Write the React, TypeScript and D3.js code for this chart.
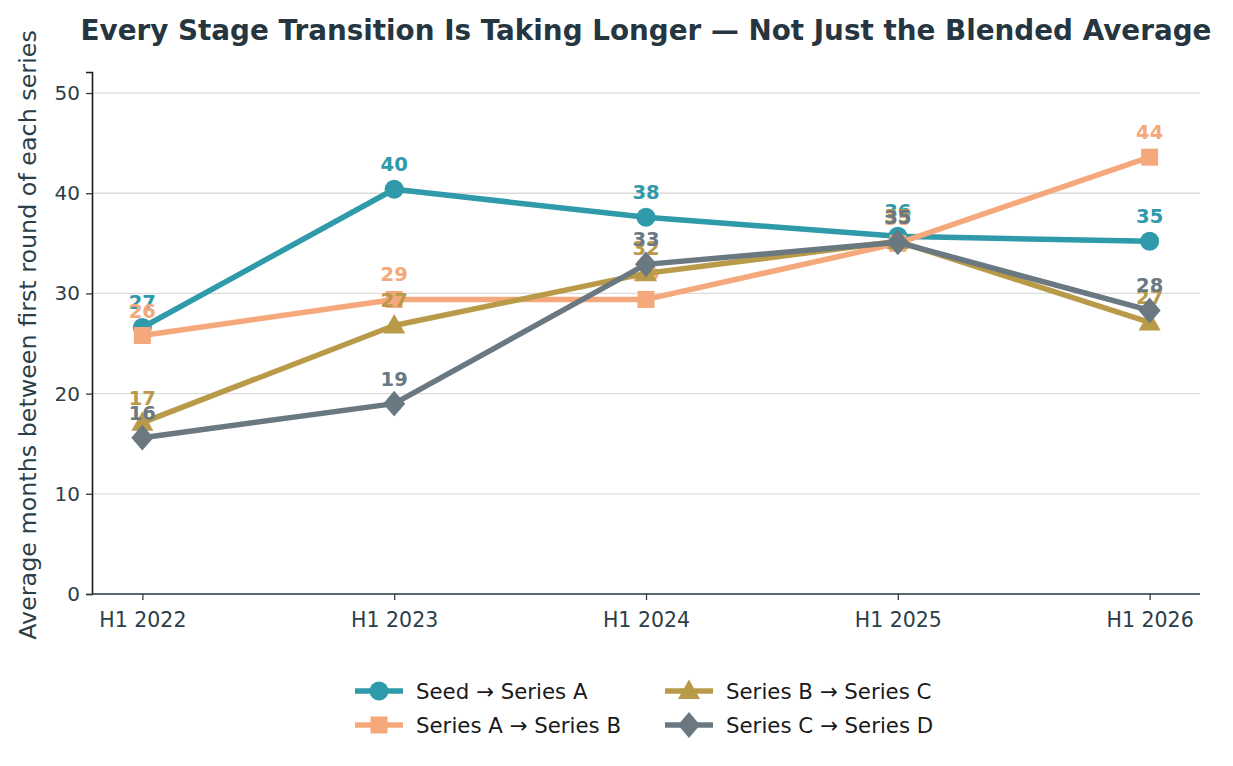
import { useEffect, useRef } from 'react';
import * as d3 from 'd3';

const periods = ['H1 2022', 'H1 2023', 'H1 2024', 'H1 2025', 'H1 2026'];
const seedToA = [26.6, 40.4, 37.6, 35.7, 35.2];
const aToB = [25.8, 29.4, 29.4, 35.0, 43.6];
const bToC = [17.1, 26.8, 32.0, 35.2, 27.1];
const cToD = [15.6, 19.0, 32.9, 35.1, 28.3];
const seriesNames = ['Seed → Series A', 'Series A → Series B', 'Series B → Series C', 'Series C → Series D'];
const seriesColors = ['#2e9aaa', '#f5a87b', '#b89a48', '#6a7882'];
const seriesMarkers = ['circle', 'square', 'triangle', 'diamond'];
const yTicks = [0, 10, 20, 30, 40, 50];

const W = 1233;
const H = 766;
const FONT = 'DejaVu Sans, sans-serif';

function markerPath(kind: string, s: number) {
    if (kind === 'circle') return d3.symbol(d3.symbolCircle, s * s * Math.PI / 4)()!;
    if (kind === 'square') return d3.symbol(d3.symbolSquare, s * s * 0.8)()!;
    if (kind === 'triangle') return `M0,${-s * 0.6}L${s * 0.58},${s * 0.42}L${-s * 0.58},${s * 0.42}Z`;
    return `M0,${-s * 0.68}L${s * 0.58},0L0,${s * 0.68}L${-s * 0.58},0Z`;
}

export default function App() {
    const svgRef = useRef<SVGSVGElement>(null);

    useEffect(() => {
        document.body.style.margin = '0';
        if (!svgRef.current) return;
        const svg = d3.select(svgRef.current);
        svg.selectAll('*').remove();

        const margin = { top: 72, right: 33, bottom: 172, left: 92 };
        const innerW = W - margin.left - margin.right;
        const innerH = H - margin.top - margin.bottom;

        const x = d3.scaleLinear().domain([-0.2, periods.length - 0.8]).range([0, innerW]);
        const y = d3.scaleLinear().domain([0, 52.1]).range([innerH, 0]);

        const g = svg.append('g').attr('transform', `translate(${margin.left},${margin.top})`);

        // Gridlines
        g.append('g').selectAll('line')
            .data(yTicks)
            .enter().append('line')
            .attr('x1', 0).attr('x2', innerW)
            .attr('y1', d => y(d)).attr('y2', d => y(d))
            .attr('stroke', '#dcdcdc')
            .attr('stroke-width', 1.3);

        // Y axis
        const yAxis = g.append('g')
            .call(d3.axisLeft(y).tickValues(yTicks).tickSize(6).tickPadding(6));
        yAxis.select('.domain').attr('stroke', '#1a1a1a').attr('stroke-width', 1.6);
        yAxis.selectAll('.tick line').attr('stroke', '#2c3e48').attr('stroke-width', 1.3);
        yAxis.selectAll('.tick text')
            .attr('font-family', FONT).attr('font-size', 20).attr('fill', '#2c3e48');

        // X axis
        const xAxis = g.append('g')
            .attr('transform', `translate(0,${innerH})`)
            .call(d3.axisBottom(x).tickValues(d3.range(periods.length)).tickFormat(i => periods[i as number]).tickSize(6).tickPadding(12));
        xAxis.select('.domain').attr('stroke', '#2c3e48').attr('stroke-width', 1.6).attr('d', `M0,0H${innerW}`);
        xAxis.selectAll('.tick line').attr('stroke', '#2c3e48').attr('stroke-width', 1.3);
        xAxis.selectAll('.tick text')
            .attr('font-family', FONT).attr('font-size', 20.5).attr('fill', '#2c3e48');

        // Series: line, markers and labels drawn together per series
        const allSeries = [seedToA, aToB, bToC, cToD];
        const line = d3.line<number>().x((_, i) => x(i)).y(d => y(d));
        allSeries.forEach((vals, si) => {
            const sg = g.append('g');
            const color = seriesColors[si];
            sg.append('path')
                .attr('d', line(vals))
                .attr('fill', 'none')
                .attr('stroke', color)
                .attr('stroke-width', 5.5)
                .attr('stroke-linejoin', 'round');
            sg.selectAll('path.mk')
                .data(vals)
                .enter().append('path')
                .attr('class', 'mk')
                .attr('transform', (d, i) => `translate(${x(i)},${y(d)})`)
                .attr('d', markerPath(seriesMarkers[si], 19))
                .attr('fill', color);
            sg.selectAll('text')
                .data(vals)
                .enter().append('text')
                .attr('x', (_, i) => x(i))
                .attr('y', d => y(d) - 18)
                .attr('text-anchor', 'middle')
                .attr('font-family', FONT)
                .attr('font-size', 19.5)
                .attr('font-weight', 'bold')
                .attr('fill', color)
                .text(d => Math.round(d));
        });

        // Title
        svg.append('text')
            .attr('x', 646).attr('y', 40)
            .attr('text-anchor', 'middle')
            .attr('font-family', FONT)
            .attr('font-size', 27.8)
            .attr('font-weight', 'bold')
            .attr('fill', '#263640')
            .text('Every Stage Transition Is Taking Longer — Not Just the Blended Average');

        // Y label
        svg.append('text')
            .attr('transform', `translate(36,${margin.top + innerH / 2 + 2}) rotate(-90)`)
            .attr('text-anchor', 'middle')
            .attr('font-family', FONT)
            .attr('font-size', 23.8)
            .attr('fill', '#2c3e48')
            .text('Average months between first round of each series');

        // Legend
        const legend = svg.append('g');
        const colX = [355, 665];
        const rowY = [691, 725];
        seriesNames.forEach((name, i) => {
            const lx = colX[Math.floor(i / 2)];
            const ly = rowY[i % 2];
            const color = seriesColors[i];
            legend.append('line')
                .attr('x1', lx).attr('x2', lx + 48)
                .attr('y1', ly).attr('y2', ly)
                .attr('stroke', color).attr('stroke-width', 5.5);
            legend.append('path')
                .attr('transform', `translate(${lx + 24},${ly})`)
                .attr('d', markerPath(seriesMarkers[i], 19))
                .attr('fill', color);
            legend.append('text')
                .attr('x', lx + 61).attr('y', ly + 7.5)
                .attr('font-family', FONT)
                .attr('font-size', 21.3)
                .attr('fill', '#1a1a1a')
                .text(name);
        });
    }, []);

    return <svg ref={svgRef} width={W} height={H} style={{ display: 'block' }} />;
}
